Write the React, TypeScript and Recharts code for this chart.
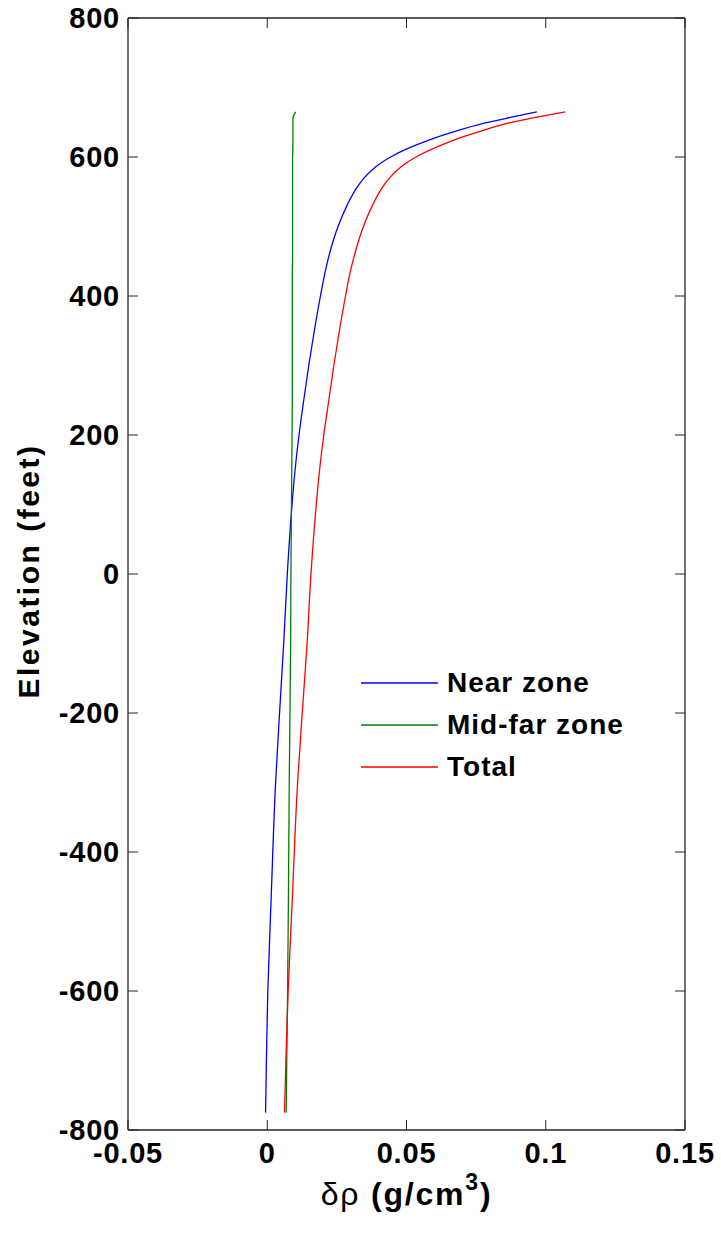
import { LineChart, Line, XAxis, YAxis, Legend, ReferenceLine } from 'recharts'

// elevation (feet) at which each profile was read
const elevation = [
  -775, -700, -600, -467, -300, -181, -100, 0, 100, 150, 200, 250, 300, 350, 400, 433, 457, 481,
  505, 529, 553, 567, 581, 590, 600, 612, 624, 636, 649, 657, 665,
]
// density contrast (g/cm3)
const nearZone = [
  -0.0006, -0.0003, 0.0002, 0.0014, 0.003, 0.0047, 0.0059, 0.0072, 0.0089, 0.01, 0.0114, 0.0131,
  0.0149, 0.0169, 0.0191, 0.0207, 0.0221, 0.0238, 0.0259, 0.0285, 0.0317, 0.0342, 0.0375, 0.0403,
  0.0443, 0.0503, 0.0578, 0.0668, 0.0783, 0.0873, 0.0968,
]
const midFarZone = [
  0.0068, 0.007, 0.0073, 0.0076, 0.0079, 0.0082, 0.0084, 0.0085, 0.0087, 0.0088, 0.0089, 0.009,
  0.009, 0.009, 0.009, 0.009, 0.0091, 0.0091, 0.0091, 0.0091, 0.0091, 0.0091, 0.0091, 0.0091,
  0.0091, 0.0092, 0.0092, 0.0092, 0.0092, 0.0093, 0.0102,
]
const total = [
  0.0062, 0.0067, 0.0075, 0.009, 0.0109, 0.0129, 0.0143, 0.0157, 0.0176, 0.0188, 0.0203, 0.0221,
  0.0239, 0.0259, 0.0281, 0.0297, 0.0312, 0.0329, 0.035, 0.0376, 0.0408, 0.0433, 0.0466, 0.0494,
  0.0534, 0.0595, 0.0668, 0.0758, 0.0868, 0.0963, 0.107,
]
const xTicks = [-0.05, 0, 0.05, 0.1, 0.15]
const yTicks = [-800, -600, -400, -200, 0, 200, 400, 600, 800]

const series = [
  { name: 'Near zone', color: '#0000ff', values: nearZone },
  { name: 'Mid-far zone', color: '#008000', values: midFarZone },
  { name: 'Total', color: '#ff0000', values: total },
]

const toPoints = (xs: number[]) => xs.map((x, i) => ({ x, y: elevation[i] }))

const W = 721
const H = 1234
const MARGIN = { top: 18, right: 36, bottom: 44, left: 8 }
const PLOT_TOP = MARGIN.top
const PLOT_RIGHT = W - MARGIN.right
const FONT = '"Liberation Sans", Arial, sans-serif'
const AXIS = '#262626'
const TICK = 10

function BottomTick({ x, y, payload }: any) {
  return (
    <g>
      <line x1={x} y1={y} x2={x} y2={y - TICK} stroke={AXIS} />
      <line x1={x} y1={PLOT_TOP} x2={x} y2={PLOT_TOP + TICK} stroke={AXIS} />
      <text x={x} y={y + 23} textAnchor="middle" dominantBaseline="central" fontFamily={FONT} fontWeight="bold" fontSize={29} letterSpacing={0.8} fill="#000">
        {String(payload.value)}
      </text>
    </g>
  )
}

function LeftTick({ x, y, payload }: any) {
  return (
    <g>
      <line x1={x} y1={y} x2={x + TICK} y2={y} stroke={AXIS} />
      <line x1={PLOT_RIGHT} y1={y} x2={PLOT_RIGHT - TICK} y2={y} stroke={AXIS} />
      <text x={x - 8} y={y} textAnchor="end" dominantBaseline="central" fontFamily={FONT} fontWeight="bold" fontSize={29} letterSpacing={0.8} fill="#000">
        {String(payload.value)}
      </text>
    </g>
  )
}

function YLabel({ viewBox }: any) {
  const cx = viewBox.x + 20
  const cy = viewBox.y + viewBox.height / 2 - 3
  return (
    <text x={cx} y={cy} transform={`rotate(-90 ${cx} ${cy})`} textAnchor="middle" dominantBaseline="central" fontFamily={FONT} fontWeight="bold" fontSize={30} letterSpacing={2.5} fill="#000">
      Elevation (feet)
    </text>
  )
}

function XLabel({ viewBox }: any) {
  const cx = viewBox.x + viewBox.width / 2
  return (
    <text x={cx} y={viewBox.y + 75} textAnchor="middle" fontFamily={FONT} fontWeight="bold" fontSize={32} letterSpacing={1.8} fill="#000">
      <tspan fontWeight="normal">δρ</tspan>
      <tspan> (g/cm</tspan>
      <tspan dy={-15} fontSize={23}>3</tspan>
      <tspan dy={15}>)</tspan>
    </text>
  )
}

function LegendBox() {
  return (
    <div>
      {series.map((s) => (
        <div key={s.name} style={{ display: 'flex', alignItems: 'center', height: 42 }}>
          <svg width={77} height={4} style={{ marginRight: 9, display: 'block' }}>
            <line x1={0} y1={2} x2={77} y2={2} stroke={s.color} strokeWidth={1.5} />
          </svg>
          <span style={{ fontFamily: FONT, fontWeight: 'bold', fontSize: 28, letterSpacing: 1, color: '#000', lineHeight: '42px' }}>{s.name}</span>
        </div>
      ))}
    </div>
  )
}

export default function App() {
  return (
    <div style={{ width: W, height: H, background: '#fff' }}>
      <style>{'body{margin:0}'}</style>
      <LineChart width={W} height={H} margin={MARGIN}>
        <XAxis
          type="number"
          dataKey="x"
          domain={[-0.05, 0.15]}
          ticks={xTicks}
          interval={0}
          allowDataOverflow
          height={60}
          tickSize={0}
          tickMargin={0}
          tickLine={false}
          axisLine={{ stroke: AXIS, strokeWidth: 1.3 }}
          tick={<BottomTick />}
          label={<XLabel />}
        />
        <YAxis
          type="number"
          domain={[-800, 800]}
          ticks={yTicks}
          interval={0}
          allowDataOverflow
          width={120}
          tickSize={0}
          tickMargin={0}
          tickLine={false}
          axisLine={{ stroke: AXIS, strokeWidth: 1.3 }}
          tick={<LeftTick />}
          label={<YLabel />}
        />
        <ReferenceLine y={800} stroke={AXIS} strokeWidth={1.3} />
        <ReferenceLine x={0.15} stroke={AXIS} strokeWidth={1.3} />
        <Legend
          layout="vertical"
          align="center"
          verticalAlign="middle"
          content={<LegendBox />}
          wrapperStyle={{ left: 361, top: 662, width: 320 }}
        />
        {series.map((s) => (
          <Line
            key={s.name}
            data={toPoints(s.values)}
            dataKey="y"
            name={s.name}
            type="monotoneY"
            stroke={s.color}
            strokeWidth={1.3}
            dot={false}
            isAnimationActive={false}
          />
        ))}
      </LineChart>
    </div>
  )
}
